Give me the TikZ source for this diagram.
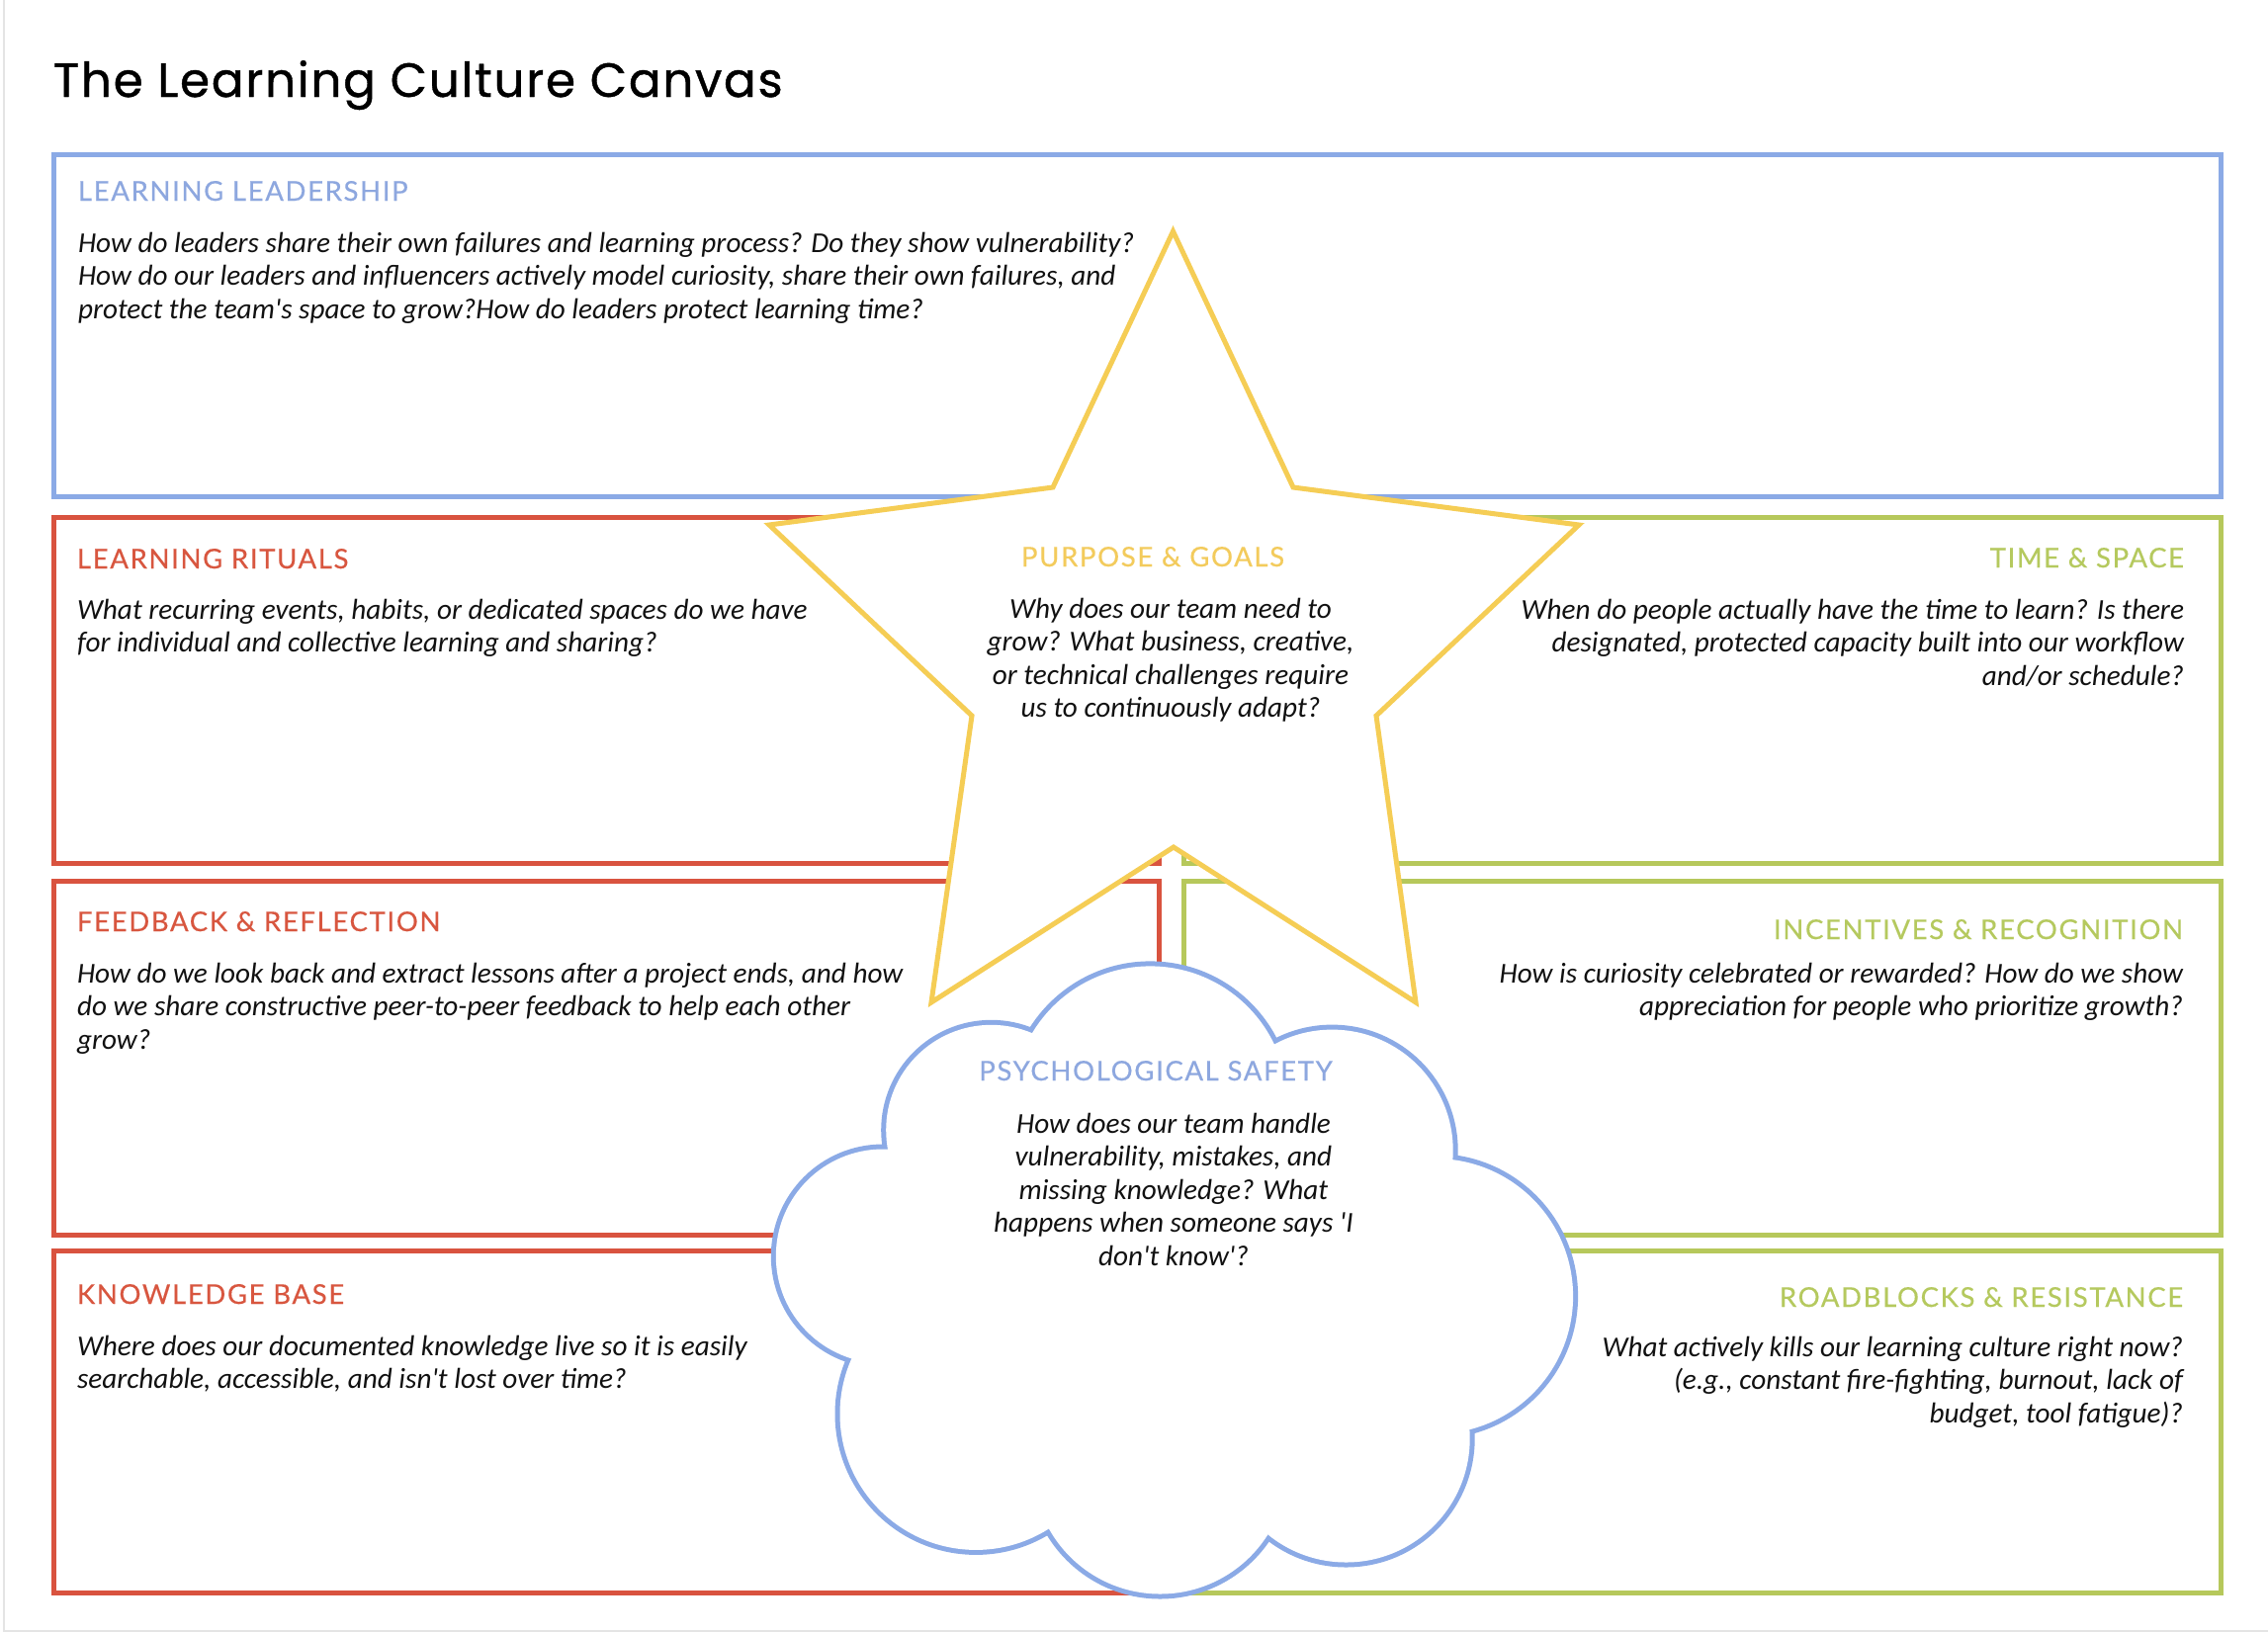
\documentclass[tikz,border=0pt]{standalone}
\usepackage{fontspec}
\usetikzlibrary{calc}
\newfontfamily\titlefont{Poppins}[LetterSpace=3.5,FakeBold=0.8]
\newfontfamily\headfont{Lato}[LetterSpace=6,FakeBold=0.4]
\newfontfamily\bodyfont{Carlito}[Ligatures=TeXOff]
\definecolor{cblue}{HTML}{8BAAE6}
\definecolor{cred}{HTML}{D9533F}
\definecolor{cgreen}{HTML}{B6C85B}
\definecolor{cyellow}{HTML}{F5CD55}
\definecolor{tblue}{HTML}{8DA7DF}
\definecolor{tred}{HTML}{D8563F}
\definecolor{tgreen}{HTML}{B5C95E}
\definecolor{tyellow}{HTML}{F3CB5C}
\definecolor{bodyc}{HTML}{111111}
\definecolor{uigray}{HTML}{E4E4E4}
\newcommand{\txtlines}[2]{\begin{tabular}[t]{@{}#1@{}}#2\end{tabular}}
\begin{document}
\begin{tikzpicture}[x=1pt,y=-1pt,
  box/.style={line width=5pt},
  txt/.style={inner sep=0pt, outer sep=0pt},
  head/.style={txt, font=\headfont\fontsize{27.5}{30}\selectfont},
  body/.style={txt, font=\bodyfont\itshape\fontsize{29.2}{33.5}\selectfont, text=bodyc}]
\fill[white] (0,0) rectangle (2294,1652);
\useasboundingbox (0,0) rectangle (2294,1652);
% window edge lines
\draw[uigray, line width=2pt] (3.5,0) -- (3.5,1649.5) -- (2294,1649.5);
% boxes
\draw[box, cblue] (54,156) rectangle (2246,502);
\draw[box, cred] (54,523) rectangle (1172,873);
\draw[box, cred] (54,891) rectangle (1172,1249);
\draw[box, cred] (54,1265) rectangle (1172,1611);
\draw[box, cgreen] (1197,523) rectangle (2246,873);
\draw[box, cgreen] (1197,891) rectangle (2246,1249);
\draw[box, cgreen] (1197,1265) rectangle (2246,1611);
% star
\draw[line width=5pt, cyellow, fill=white, line join=miter]
  (1186.5,234) -- (1308,493) -- (1597,531) -- (1392,724) -- (1432,1014)
  -- (1187,857) -- (942,1014) -- (983,724) -- (778,531) -- (1065,493) -- cycle;
% cloud
\foreach \cx/\cy/\r in {1163.4/1116.5/139.1, 1347.4/1163.9/122.3, 1451.9/1311.3/139.2,
  1361.5/1455.3/125.2, 1173.4/1483.7/128.8, 987.1/1430.3/137.6, 893.1/1270.8/108.3,
  1002.6/1143.2/106.4}
  \draw[cblue, line width=10pt] (\cx,\cy) circle[radius=\r pt];
\foreach \cx/\cy/\r in {1163.4/1116.5/139.1, 1347.4/1163.9/122.3, 1451.9/1311.3/139.2,
  1361.5/1455.3/125.2, 1173.4/1483.7/128.8, 987.1/1430.3/137.6, 893.1/1270.8/108.3,
  1002.6/1143.2/106.4}
  \fill[white] (\cx,\cy) circle[radius=\r pt];
\coordinate (cc) at (1185,1300);
\fill[white] ($(cc)!0.93!(1043,1042)$) -- ($(cc)!0.93!(1290,1053)$) -- ($(cc)!0.93!(1472,1171)$)
  -- ($(cc)!0.93!(1489,1448)$) -- ($(cc)!0.93!(1283,1556)$) -- ($(cc)!0.93!(1060,1550)$)
  -- ($(cc)!0.93!(858,1376)$) -- ($(cc)!0.93!(895,1160)$) -- cycle;
% title
\node[txt, anchor=base west, font=\titlefont\fontsize{48.5}{55}\selectfont] (title) at (54,98) {The Learning Culture Canvas};
% learning leadership
\node[head, text=tblue, anchor=base west] (llh) at (79,203) {LEARNING LEADERSHIP};
\node[body, anchor=base west] (llb) at (79,255) {\txtlines{l}{How do leaders share their own failures and learning process? Do they show vulnerability?\\
How do our leaders and influencers actively model curiosity, share their own failures, and\\
protect the team's space to grow?How do leaders protect learning time?}};
% learning rituals
\node[head, text=tred, anchor=base west] (lrh) at (78,575) {LEARNING RITUALS};
\node[body, anchor=base west] (lrb) at (78,626) {\txtlines{l}{What recurring events, habits, or dedicated spaces do we have\\
for individual and collective learning and sharing?}};
% feedback
\node[head, text=tred, anchor=base west] (frh) at (78,942) {FEEDBACK \& REFLECTION};
\node[body, anchor=base west] (frb) at (78,994) {\txtlines{l}{How do we look back and extract lessons after a project ends, and how\\
do we share constructive peer-to-peer feedback to help each other\\
grow?}};
% knowledge base
\node[head, text=tred, anchor=base west] (kbh) at (78,1319) {KNOWLEDGE BASE};
\node[body, anchor=base west] (kbb) at (78,1371) {\txtlines{l}{Where does our documented knowledge live so it is easily\\
searchable, accessible, and isn't lost over time?}};
% time & space
\node[head, text=tgreen, anchor=base east] (tsh) at (2209,574) {TIME \& SPACE};
\node[body, anchor=base east] (tsb) at (2209,626) {\txtlines{r}{When do people actually have the time to learn? Is there\\
designated, protected capacity built into our workflow\\
and/or schedule?}};
% incentives
\node[head, text=tgreen, anchor=base east] (irh) at (2208,950) {INCENTIVES \& RECOGNITION};
\node[body, anchor=base east] (irb) at (2208,994) {\txtlines{r}{How is curiosity celebrated or rewarded? How do we show\\
appreciation for people who prioritize growth?}};
% roadblocks
\node[head, text=tgreen, anchor=base east] (rrh) at (2208,1322) {ROADBLOCKS \& RESISTANCE};
\node[body, anchor=base east] (rrb) at (2208,1372) {\txtlines{r}{What actively kills our learning culture right now?\\
(e.g., constant fire-fighting, burnout, lack of\\
budget, tool fatigue)?}};
% purpose & goals
\node[head, text=tyellow, anchor=base] (pgh) at (1166,573) {PURPOSE \& GOALS};
\node[body, anchor=base] (pgb) at (1184,625) {\txtlines{c}{Why does our team need to\\
grow? What business, creative,\\
or technical challenges require\\
us to continuously adapt?}};
% psychological safety
\node[head, text=tblue, anchor=base] (psh) at (1169,1093) {PSYCHOLOGICAL SAFETY};
\node[body, anchor=base] (psb) at (1187,1146) {\txtlines{c}{How does our team handle\\
vulnerability, mistakes, and\\
missing knowledge? What\\
happens when someone says 'I\\
don't know'?}};
\end{tikzpicture}
\end{document}
